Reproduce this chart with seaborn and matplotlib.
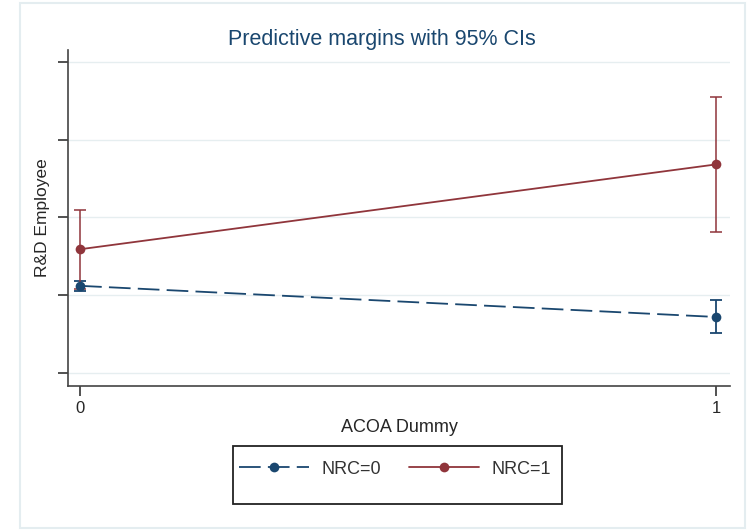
import numpy as np
import pandas as pd
import matplotlib
matplotlib.use('Agg')
import matplotlib.pyplot as plt
import seaborn as sns
from matplotlib.patches import Rectangle
from matplotlib.lines import Line2D

# 数据（从图中读取，y 轴无刻度标签，单位按刻度间隔估计）
acoa = [0, 1]
nrc0_margin = [1.12, 0.72]
nrc0_lo = [1.06, 0.51]
nrc0_hi = [1.18, 0.94]
nrc1_margin = [1.59, 2.68]
nrc1_lo = [1.08, 1.81]
nrc1_hi = [2.10, 3.54]
y_ticks = [0, 1, 2, 3, 4]
groups = ['NRC=0', 'NRC=1']

sns.set_style('white')
plt.rcParams['font.family'] = ['Liberation Sans', 'DejaVu Sans']

blue = '#1a476f'
red = '#90353b'
grid_c = '#e6eef0'

df = pd.DataFrame({
    'ACOA Dummy': acoa * 2,
    'margin': nrc0_margin + nrc1_margin,
    'group': [groups[0]] * 2 + [groups[1]] * 2,
})

fig = plt.figure(figsize=(7.54, 5.30), dpi=100)
# 外框
fig.patches.append(Rectangle((20 / 754, 2 / 530), 725 / 754, 525 / 530,
                             transform=fig.transFigure, fill=False,
                             edgecolor='#e4edf0', linewidth=1.5))
ax = fig.add_axes([68 / 754, 144 / 530, 662 / 754, 336 / 530])

# 置信区间
ax.errorbar(acoa, nrc0_margin,
            yerr=[np.array(nrc0_margin) - np.array(nrc0_lo), np.array(nrc0_hi) - np.array(nrc0_margin)],
            fmt='none', ecolor=blue, elinewidth=1.3, capsize=4, capthick=1.3, zorder=2)
ax.errorbar(acoa, nrc1_margin,
            yerr=[np.array(nrc1_margin) - np.array(nrc1_lo), np.array(nrc1_hi) - np.array(nrc1_margin)],
            fmt='none', ecolor=red, elinewidth=1.3, capsize=4, capthick=1.3, zorder=2,
            alpha=0.85)

sns.lineplot(data=df, x='ACOA Dummy', y='margin', hue='group', style='group',
             palette={groups[0]: blue, groups[1]: red},
             dashes={groups[0]: (12, 4), groups[1]: ''},
             markers={groups[0]: 'o', groups[1]: 'o'},
             markersize=7, markeredgewidth=0, linewidth=1.3, ax=ax, zorder=3,
             legend=False)

ax.set_xlim(-0.019, 1.022)
ax.set_ylim(-0.167, 4.15)
ax.set_xticks(acoa)
ax.set_xticklabels(['0', '1'], fontsize=12)
ax.set_yticks(y_ticks)
ax.set_yticklabels([])
ax.grid(axis='y', color=grid_c, linewidth=1)
ax.tick_params(axis='both', direction='out', length=7, width=1.2, color='#333333',
               left=True, bottom=True, pad=4)
for s in ['top', 'right']:
    ax.spines[s].set_visible(False)
for s in ['left', 'bottom']:
    ax.spines[s].set_color('#444444')
    ax.spines[s].set_linewidth(1.2)

ax.set_xlabel('ACOA Dummy', fontsize=13, labelpad=2)
ax.set_ylabel('R&D Employee', fontsize=12.5)
ax.yaxis.set_label_coords(-18 / 662, 0.5)
fig.text(382 / 754, 491 / 530, 'Predictive margins with 95% CIs', fontsize=15.5,
         color=blue, ha='center', va='center')

# 图例（Stata 风格：框下方留白）
fig.patches.append(Rectangle((233 / 754, 26 / 530), 329 / 754, 58 / 530,
                             transform=fig.transFigure, fill=False,
                             edgecolor='#222222', linewidth=1.3))
h0 = Line2D([], [], color=blue, dashes=(12, 4), lw=1.3, marker='o', ms=7, mew=0)
h1 = Line2D([], [], color=red, lw=1.3, marker='o', ms=7, mew=0)
leg = fig.legend([h0, h1], groups, loc='center', bbox_to_anchor=(395 / 754, 61 / 530),
                 ncol=2, frameon=False, fontsize=13, handlelength=3.9,
                 handletextpad=0.67, columnspacing=1.55, borderpad=0.2)
for t in leg.get_texts():
    t.set_color('#333333')

fig.savefig('out.png', dpi=100)
